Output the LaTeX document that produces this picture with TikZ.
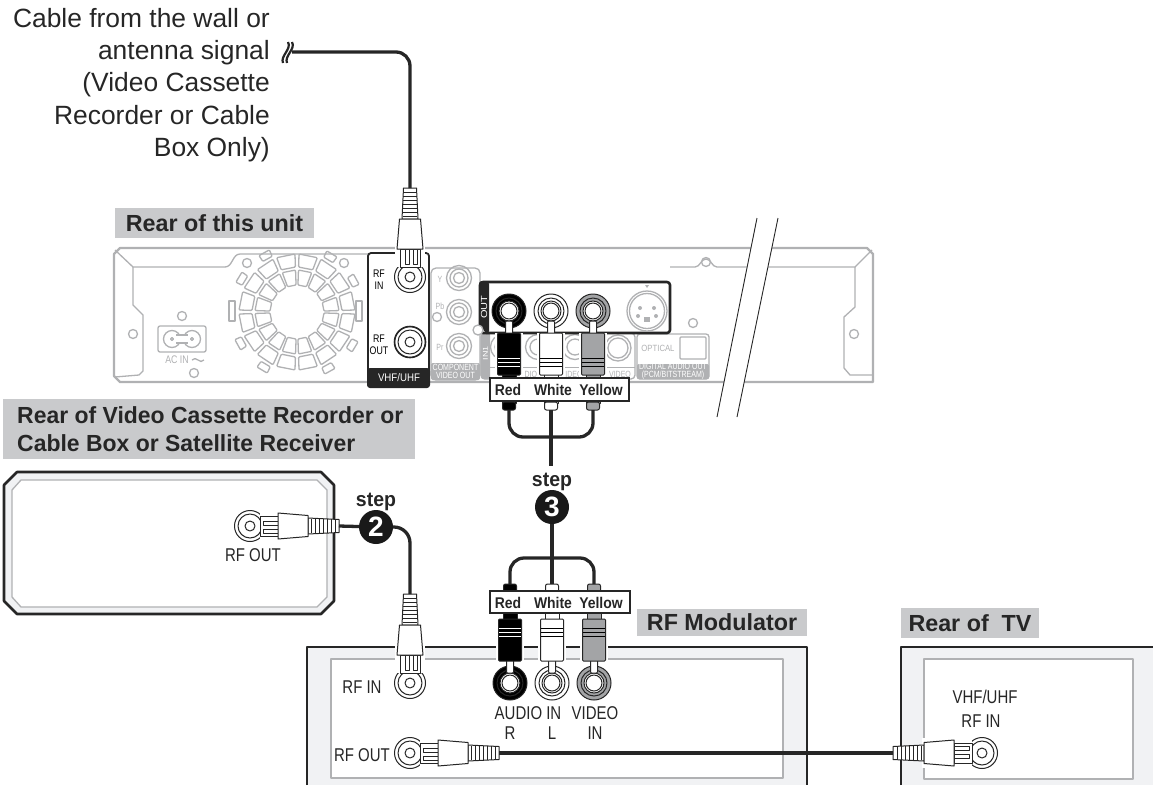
\documentclass[tikz,border=0pt]{standalone}
\usepackage{fontspec}
\setmainfont{Liberation Sans}
\usepackage{xcolor}
\usetikzlibrary{positioning}
\definecolor{lblgray}{HTML}{C9CACC}
\definecolor{linegray}{HTML}{B0B1B3}
\definecolor{panelgray}{HTML}{F1F2F4}
\definecolor{pluggray}{HTML}{A3A4A6}
\tikzset{
  plugln/.style={draw=black!85,line width=1pt,line join=round},
  pics/rfjack/.style={code={
    \draw[plugln,fill=white] (0,0) circle (15.5);
    \draw[plugln] (0,0) circle (12);
    \draw[plugln] (0,0) circle (5);
  }},
  pics/rfplug/.style={code={
    \fill[white] (-15,-60) rectangle (15,-10);
    \draw[plugln,fill=white] (-6.5,-89) -- (6.5,-89) -- (8,-58) -- (-8,-58) -- cycle;
    \foreach \v in {-85,-81,...,-61} \draw[plugln] (-7,\v) -- (7,\v);
    \draw[plugln,fill=white] (-10,-28) rectangle (10,-10);
    \draw[plugln] (-5,-28) rectangle (-1,-13);
    \draw[plugln] (3,-28) rectangle (7,-13);
    \draw[plugln,fill=white] (-10.5,-58) -- (10.5,-58) -- (13,-28) -- (-13,-28) -- cycle;
    \coordinate (-tail) at (0,-89);
  }},
  pics/rcajack/.style={code={
    \draw[plugln,fill=#1] (0,0) circle (17);
    \draw[plugln] (0,0) circle (13);
    \draw[plugln,fill=white] (0,0) circle (10);
    \draw[plugln] (0,0) circle (8);
  }},
  pics/rcaplug/.style n args={2}{code={
    \fill[white] (-14,-66) rectangle (14,-22);
    \draw[plugln,fill=white,rounded corners=1] (-3.5,-22) -- (-3.5,-10) -- (3.5,-10) -- (3.5,-22);
    \draw[plugln,fill=#1] (-7,-92) rectangle (7,-62);
    \draw[plugln,fill=#1,rounded corners=1] (-11.5,-22) rectangle (11.5,-64);
    \foreach \v in {-47,-51,-55} \draw[#2,line width=1pt] (-11,\v) -- (11,\v);
    \draw[plugln,fill=#1,rounded corners=2] (-6.5,-99) rectangle (6.5,-91);
    \coordinate (-tail) at (0,-99);
  }}
}
\begin{document}
\begin{tikzpicture}[x=1pt,y=-1pt]
\tikzstyle{unitln}=[draw=linegray,line width=1.3pt,line join=round]
\tikzstyle{outln}=[draw=linegray,line width=2.4pt,line join=round]
\tikzstyle{blkln}=[draw=black!85,line width=2.6pt,line join=round]
\tikzstyle{cbl}=[draw=black!85,line width=3.3pt]
\tikzstyle{glbl}=[fill=lblgray,inner sep=0pt,text=black!85,font=\fontsize{23.3}{28.5}\selectfont\bfseries]
\tikzstyle{txt}=[inner sep=0pt,text=black!85,align=center,xscale=.81,transform shape,font=\fontsize{18.5}{24}\selectfont]
\tikzstyle{tagbox}=[draw=black!85,fill=white,line width=1.6pt,inner sep=0pt]
\tikzstyle{tagtxt}=[inner sep=0pt,text=black!85,xscale=.9,transform shape,font=\fontsize{15.5}{16}\selectfont\bfseries]
\tikzstyle{tiny}=[inner sep=0pt,align=center,xscale=.8,transform shape,font=\fontsize{11}{12}\selectfont]
\tikzstyle{gtiny}=[inner sep=0pt,text=linegray,align=center,xscale=.78,transform shape,font=\fontsize{9}{8.5}\selectfont]
\tikzstyle{stepdot}=[circle,fill=black!90,text=white,inner sep=0pt,minimum size=34pt,font=\fontsize{28}{28}\selectfont\bfseries]
\tikzstyle{steplbl}=[inner sep=0pt,text=black!85,xscale=.95,transform shape,font=\fontsize{20.5}{22}\selectfont\bfseries]
\useasboundingbox (0,0) rectangle (1153,785);

\node[inner sep=0pt,anchor=north east,align=right,text=black!85,font=\fontsize{26.4}{32.3}\selectfont] (wall) at (270,8)
  {Cable from the wall or\\antenna signal\\(Video Cassette\\Recorder or Cable\\Box Only)};
\node[glbl,minimum width=199pt,minimum height=30pt] (lbla) at (214.5,223) {Rear of this unit};
\node[fill=lblgray,minimum width=412pt,minimum height=60pt,inner sep=0pt] (lblb) at (209,428.5) {};
\node[glbl,fill=none,anchor=west,align=left,xscale=.985,transform shape] (lblt) at (17,429)
  {Rear of Video Cassette Recorder or\\Cable Box or Satellite Receiver};
\node[glbl,minimum width=170pt,minimum height=27pt] (lblc) at (722,622.5) {RF Modulator};
\node[glbl,minimum width=138pt,minimum height=30pt] (lbld) at (970,623) {Rear of\ \ TV};

% rear of this unit
\draw[outln,fill=white] (114,254) -- (120,248) -- (867,248) -- (873,254) -- (873,382) -- (120,382) -- (114,376) -- cycle;
\draw[unitln] (115,250) -- (133,267) -- (225,267) to[out=0,in=180] (240,254) -- (368,254);
\draw[unitln] (133,267) -- (133,305) -- (143,315) -- (143,371) -- (139,375) -- (115,377);
\draw[unitln] (670,267) -- (695,267) to[out=0,in=180] (706,259) to[out=0,in=180] (717,267) -- (855,267) -- (872,250);
\draw[unitln] (855,267) -- (855,307) -- (844,317) -- (844,368) -- (850,375) -- (873,375);
\foreach \hx/\hy in {133/334,182/316,194/373,247/263,344/263,693/323,706/262,854/334}
  \draw[unitln] (\hx,\hy) circle (4.5);
\begin{scope}[shift={(297,312)}]
\foreach \a in {0,22.5,...,337.5}{
  \draw[unitln,rounded corners=1] (\a+2:27) -- (\a+20.5:27) -- (\a+20.5:42) -- (\a+2:42) -- cycle;
  \draw[unitln,rounded corners=1] (\a+2:45) -- (\a+20.5:45) -- (\a+20.5:58) -- (\a+2:58) -- cycle;
}
\foreach \a in {25,55,115,145,205,235,295,325}
  \draw[unitln,rounded corners=1] (\a+1:61) -- (\a+11:61) -- (\a+11:68) -- (\a+1:68) -- cycle;
\end{scope}
\draw[unitln] (229,301) rectangle (235,321);
\draw[unitln] (356,301) rectangle (362,321);
\draw[unitln,rounded corners=2] (158,326) rectangle (206,352);
\draw[unitln] (172,339) circle (8.5);
\draw[unitln] (192,339) circle (8.5);
\fill[white] (175,335.5) rectangle (189,342.5);
\draw[unitln] (176,335) -- (188,335);
\draw[unitln] (176,343) -- (188,343);
\draw[unitln] (172,339) circle (1.5);
\draw[unitln] (192,339) circle (1.5);
\node[tiny,text=linegray] (acin) at (177,360) {AC IN};
\coordinate (wva) at (192,360);
\coordinate (wvb) at (204,360);
\draw[unitln] (wva) .. controls (196,355) and (200,365) .. (wvb);

% component panel
\draw[outln,line width=1.3pt,fill=white,rounded corners=5] (431,268) rectangle (480,380);
\fill[linegray,rounded corners=2] (431,363) rectangle (480,380);
\node[gtiny,text=white] (comp) at (455.5,371.5) {COMPONENT\\VIDEO OUT};
\foreach \jy in {278,312,346}{
  \draw[unitln] (459,\jy) circle (12.5);
  \draw[unitln] (459,\jy) circle (9);
  \draw[unitln] (459,\jy) circle (5.5);
}
\node[gtiny] (cy) at (440,279) {Y};
\node[gtiny] (cb) at (440,306) {P\textsc{b}};
\node[gtiny] (cr) at (440,347) {P\textsc{r}};
\draw[unitln] (437,317) circle (4.5);

% input panel behind the plugs
\draw[outln,line width=1.3pt,fill=white,rounded corners=4] (481,333) rectangle (635,379);
\fill[linegray,rounded corners=2] (481,333) rectangle (490,379);
\node[gtiny,text=white,rotate=90] (inb) at (485.5,353) {IN1};
\draw[unitln] (490,367.5) -- (635,367.5);
\foreach \jx in {503,538,575}{
  \draw[unitln] (\jx,347) circle (12.5);
  \draw[unitln] (\jx,347) circle (8);
}
\draw[unitln] (618,348) circle (13);
\draw[unitln] (618,348) circle (10);
\node[gtiny] (ina) at (532,374) {DIO-};
\node[gtiny] (inc) at (574,374) {IDEO};
\node[gtiny] (ind) at (620,374) {VIDEO};

% optical panel
\draw[outln,line width=1.3pt,fill=white,rounded corners=3] (637,334) rectangle (709,379);
\fill[linegray,rounded corners=2] (637,364) rectangle (709,379);
\node[gtiny,text=white] (dig) at (673,371.5) {DIGITAL AUDIO OUT\\(PCM/BITSTREAM)};
\node[gtiny,xscale=1.1] (opt) at (658,348) {OPTICAL};
\draw[unitln,rounded corners=1] (680,337) rectangle (706,359);

% out panel
\draw[blkln,fill=white,rounded corners=3] (480,282) rectangle (670,333);
\fill[black!85,rounded corners=3] (479,281) -- (489,281) -- (489,334) -- (487,334) -- (479,325) -- cycle;
\node[tiny,text=white,rotate=90] (outl) at (484,307) {OUT};
\draw[unitln,fill=white] (478,330) circle (5);
\pic (ja) at (509,311) {rcajack=black};
\pic (jb) at (551,311) {rcajack=white};
\pic (jc) at (593,311) {rcajack=pluggray};
\draw[unitln] (647,311) circle (20);
\draw[unitln] (647,311) circle (17.5);
\foreach \sx/\sy in {640/308,654/308,638/316,656/316}
  \fill[linegray] (\sx,\sy) circle (2);
\fill[linegray] (644,317) rectangle (650,322);
\fill[linegray] (645,285) -- (649,285) -- (647,288) -- cycle;

% vhf/uhf panel
\draw[blkln,line width=1.8pt,fill=white,rounded corners=3] (368,253) rectangle (429,387);
\fill[black!85,rounded corners=3] (367,368) rectangle (430,388);
\node[tiny,text=white,xscale=1.1] (vhf) at (399,378) {VHF/UHF};
\node[tiny,text=black] (rfia) at (379,280) {RF\\IN};
\node[tiny,text=black] (rfob) at (379,345) {RF\\OUT};
\pic (jd) at (410,277) {rfjack};
\pic (je) at (410,342) {rfjack};
\draw[black!85,line width=1.6pt] (410,342) circle (15.5);

% break in the unit
\fill[white] (757,218) -- (778,218) -- (737,417) -- (717,417) -- cycle;
\coordinate (sla) at (757,218);
\coordinate (slb) at (717,417);
\coordinate (slc) at (778,218);
\coordinate (sld) at (737,417);
\draw[black!85,line width=.9pt] (sla) -- (slb);
\draw[black!85,line width=.9pt] (slc) -- (sld);

% plugs on the unit
\pic (pa) at (410,277) {rfplug};
\pic[rotate=180] (pb) at (509,311) {rcaplug={black}{white}};
\pic[rotate=180] (pc) at (551,311) {rcaplug={white}{black}};
\pic[rotate=180] (pd) at (593,311) {rcaplug={pluggray}{black}};
\node[tagbox,minimum width=139pt,minimum height=23pt] (taga) at (559.5,389.5) {};
\node[tagtxt] (ra) at (508,390) {Red};
\node[tagtxt] (wa) at (553,390) {White};
\node[tagtxt] (ya) at (601,390) {Yellow};

% vcr box
\fill[panelgray,blkln] (17,472) -- (321,472) -- (334,485) -- (334,601) -- (321,614) -- (17,614) -- (4,601) -- (4,485) -- cycle;
\draw[unitln,fill=white] (21,480) -- (317,480) -- (327,490) -- (327,597) -- (317,607) -- (21,607) -- (12,597) -- (12,490) -- cycle;
\node[txt] (rfoa) at (253,555) {RF OUT};
\pic (jf) at (250,526) {rfjack};
\pic[rotate=-90] (pe) at (250,526) {rfplug};

% rf modulator
\fill[panelgray] (307,647) rectangle (807,785);
\draw[unitln,fill=white] (331,659) rectangle (783,778);
\draw[blkln] (307,785) -- (307,647) -- (807,647) -- (807,785);
\node[txt] (rfib) at (362,687) {RF IN};
\node[txt] (rfoc) at (362,755) {RF OUT};
\node[txt] (aud) at (528,713) {AUDIO IN};
\node[txt] (vid) at (595,713) {VIDEO};
\node[txt] (rr) at (510,733) {R};
\node[txt] (ll) at (552,733) {L};
\node[txt] (ii) at (595,733) {IN};
\pic (jg) at (410,683) {rfjack};
\pic (jh) at (410,753) {rfjack};
\pic (ji) at (510,683) {rcajack=black};
\pic (jj) at (552,683) {rcajack=white};
\pic (jk) at (594,683) {rcajack=pluggray};
\pic (pf) at (410,683) {rfplug};
\pic[rotate=-90] (pg) at (410,753) {rfplug};
\pic (ph) at (510,683) {rcaplug={black}{white}};
\pic (pi) at (552,683) {rcaplug={white}{black}};
\pic (pj) at (594,683) {rcaplug={pluggray}{black}};
\node[tagbox,minimum width=140pt,minimum height=22pt] (tagb) at (560,602) {};
\node[tagtxt] (rb) at (508,603) {Red};
\node[tagtxt] (wb) at (553,603) {White};
\node[tagtxt] (yb) at (601,603) {Yellow};

% rear of tv
\fill[panelgray] (901,647) rectangle (1153,785);
\draw[unitln,fill=white] (924,659) rectangle (1133,779);
\draw[blkln] (901,785) -- (901,647) -- (1153,647);
\node[txt] (vhfb) at (985,697) {VHF/UHF};
\node[txt] (rfic) at (981,721) {RF IN};
\pic (jl) at (982,753) {rfjack};
\pic[rotate=90] (pk) at (982,753) {rfplug};

% steps
\node[stepdot] (stwo) at (376,527) {2};
\node[steplbl,above=-1.5pt of stwo] (sta) {step};
\node[stepdot] (sthr) at (552,507) {3};
\node[steplbl,above=-1.5pt of sthr] (stb) {step};

% cables
\coordinate (brk) at (292,52);
\coordinate (cra) at (551,437);
\coordinate (crb) at (551,466);
\coordinate (crc) at (552,558);
\draw[cbl,rounded corners=14] (brk) -| (pa-tail);
\draw[cbl] (pe-tail) -- (stwo);
\draw[cbl,rounded corners=16] (stwo) -| (pf-tail);
\draw[cbl,rounded corners=14] (pb-tail) |- (cra) -| (pd-tail);
\draw[cbl] (pc-tail) -- (crb);
\draw[cbl,rounded corners=14] (ph-tail) |- (crc) -| (pj-tail);
\draw[cbl] (sthr) -- (pi-tail);
\draw[cbl] (pg-tail) -- (pk-tail);
\coordinate (bka) at (288,42);
\coordinate (bkb) at (283,63);
\coordinate (bkc) at (292,42);
\coordinate (bkd) at (287,63);
\draw[black!85,line width=2.2pt] (bka) .. controls (292,49) and (280,56) .. (bkb);
\draw[black!85,line width=2.2pt] (bkc) .. controls (296,49) and (284,56) .. (bkd);
\end{tikzpicture}
\end{document}
